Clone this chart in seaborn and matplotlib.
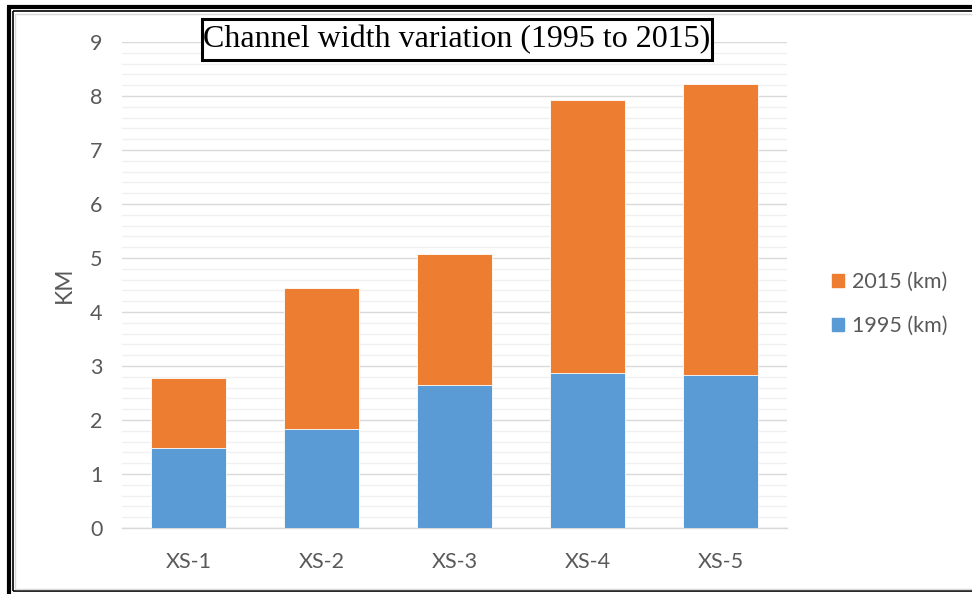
# Channel width variation chart (stacked bars)

# -------------------- IMPORTS --------------------
import numpy as np
import pandas as pd
import matplotlib
matplotlib.use("Agg")
import matplotlib.pyplot as plt
from matplotlib.patches import Rectangle, Patch
from matplotlib.lines import Line2D
from matplotlib.ticker import MultipleLocator
import seaborn as sns

# -------------------- DATA --------------------
sections = ["XS-1", "XS-2", "XS-3", "XS-4", "XS-5"]
width_1995 = [1.48, 1.83, 2.65, 2.87, 2.84]
width_2015 = [1.30, 2.61, 2.42, 5.06, 5.38]
series_labels = ["2015 (km)", "1995 (km)"]
title_text = "Channel width variation (1995 to 2015)"

df = pd.DataFrame({"section": sections, "w1995": width_1995, "w2015": width_2015})
df["top"] = df["w1995"] + df["w2015"]

# -------------------- STYLE --------------------
sns.set_theme(style="white")
plt.rcParams["font.family"] = ["Lato", "DejaVu Sans"]

blue = "#5B9BD5"
orange = "#ED7D31"
grey_txt = "#595959"

W, H = 972, 594
fig = plt.figure(figsize=(W / 100, H / 100), dpi=100, facecolor="white", edgecolor="white")
ax = fig.add_axes([122 / W, 1 - 528 / H, (787 - 122) / W, (528 - 42) / H])

# -------------------- BARS --------------------
sns.barplot(data=df, x="section", y="top", color=orange, width=0.57,
            saturation=1, edgecolor="white", linewidth=0.6, ax=ax, zorder=3)
sns.barplot(data=df, x="section", y="w1995", color=blue, width=0.57,
            saturation=1, edgecolor="white", linewidth=0.6, ax=ax, zorder=4)

# -------------------- AXES --------------------
ax.set_ylim(0, 9)
ax.set_xlim(-0.5, len(sections) - 0.5)
ax.yaxis.set_major_locator(MultipleLocator(1))
ax.yaxis.set_minor_locator(MultipleLocator(0.2))
ax.grid(axis="y", which="major", color="#d9d9d9", lw=1.0, zorder=0)
ax.grid(axis="y", which="minor", color="#f0f0f0", lw=1.0, zorder=0)
ax.set_axisbelow(True)
for s in ["top", "right", "left"]:
    ax.spines[s].set_visible(False)
ax.spines["bottom"].set_color("#d9d9d9")
ax.spines["bottom"].set_linewidth(1.0)
ax.tick_params(axis="both", which="both", length=0, labelsize=15.5, colors=grey_txt)
ax.tick_params(axis="y", pad=14)
ax.tick_params(axis="x", pad=17)
ax.set_xlabel("")
ax.set_ylabel("KM", fontsize=16.5, color=grey_txt, labelpad=11)

# -------------------- LEGEND --------------------
handles = [Patch(color=orange), Patch(color=blue)]
fig.legend(handles, series_labels, loc="center left",
           bbox_to_anchor=(813 / W, 1 - 304 / H), frameon=False,
           fontsize=15.5, labelcolor=grey_txt, handlelength=0.55, handleheight=0.55,
           handletextpad=0.35, labelspacing=1.1)

# -------------------- TITLE BOX --------------------
fig.add_artist(Rectangle((201.5 / W, 1 - 59.5 / H), (712 - 201.5) / W, (59.5 - 18.5) / H,
                         transform=fig.transFigure, fc="white", ec="black", lw=2.2, zorder=5))
fig.text(457 / W, 1 - 40 / H, title_text, ha="center", va="center",
         fontsize=23, family="Liberation Serif", color="black", zorder=6)


# -------------------- FRAME (left / top / bottom only, right is cut off) --------------------
def px_line(xs, ys, **kw):
    fig.add_artist(Line2D([x / W for x in xs], [1 - y / H for y in ys],
                          transform=fig.transFigure, solid_capstyle="butt", **kw))


px_line([8.5, 8.5], [7, 594], color="black", lw=3.0)
px_line([7, 972], [7, 7], color="black", lw=3.0)
px_line([12.5, 12.5], [11, 591], color="black", lw=1.2)
px_line([12.5, 972], [11, 11], color="black", lw=1.2)
px_line([12.5, 972], [591, 591], color="black", lw=1.2)
px_line([14.5, 14.5], [13.5, 589], color="#d9d9d9", lw=1.0)
px_line([14.5, 972], [13.5, 13.5], color="#d9d9d9", lw=1.0)
px_line([14.5, 972], [589, 589], color="#d9d9d9", lw=1.0)

fig.savefig("out.png", dpi=100, facecolor="white", edgecolor="white")
